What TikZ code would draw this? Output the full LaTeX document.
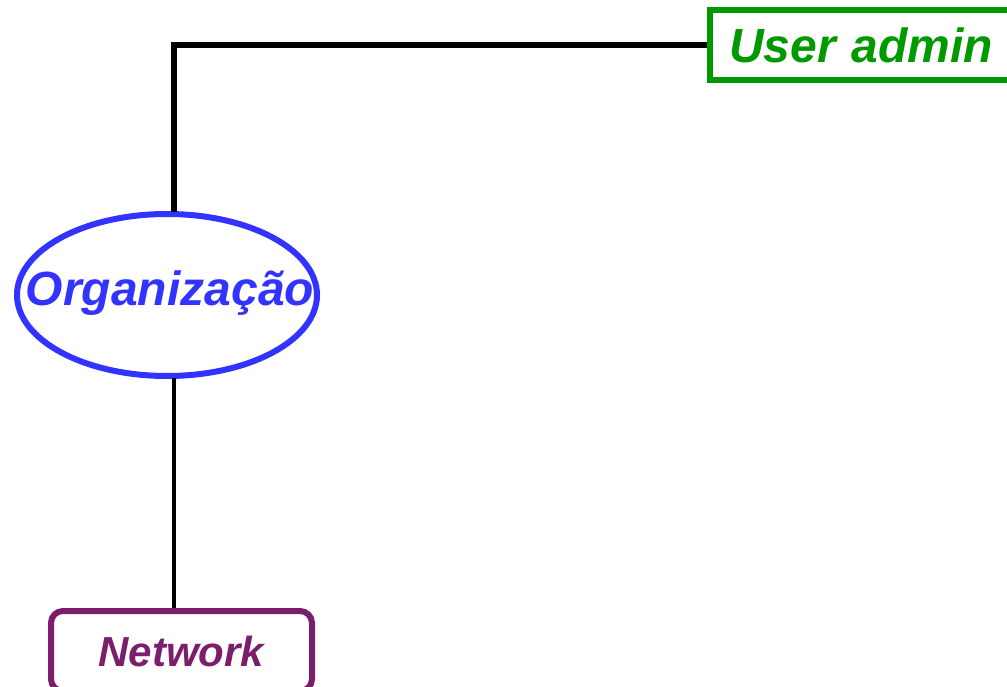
\documentclass[tikz,border=0pt]{standalone}
\usepackage{fontspec}
\setmainfont{Liberation Sans}
\usetikzlibrary{shapes.geometric}
\definecolor{orgblue}{RGB}{51,51,255}
\definecolor{admingreen}{RGB}{0,153,0}
\definecolor{netpurple}{RGB}{123,31,108}
\tikzset{
  labelfont/.style={font=\fontsize{#1}{#1}\selectfont\bfseries\itshape},
  orgshape/.style={ellipse, draw=orgblue, line width=6pt,
    minimum width=300pt, minimum height=162pt, inner sep=0pt},
  orgtext/.style={text=orgblue, inner sep=0pt, labelfont=48},
  adminbox/.style={rectangle, draw=admingreen, line width=6pt, text=admingreen,
    minimum height=70pt, text width=320pt, align=left, inner xsep=19pt,
    inner ysep=0pt, labelfont=48},
  netbox/.style={rectangle, rounded corners=12pt, draw=netpurple, line width=6pt,
    text=netpurple, minimum width=261pt, minimum height=80pt, inner ysep=0pt,
    labelfont=42},
  thickconn/.style={draw=black, line width=6pt},
  thinconn/.style={draw=black, line width=4.5pt},
}
\begin{document}
\begin{tikzpicture}[x=1pt,y=-1pt]
  \useasboundingbox (0,0) rectangle (1007,687);
  \clip (0,0) rectangle (1007,687);
  % nodes
  \node[orgshape] (org) at (167,295) {};
  \node[orgtext] (orglabel) at (170,293) {Organização};
  \node[adminbox, anchor=west] (admin) at (707,45) {User admin};
  \node[netbox] (net) at (181.5,651) {Network};
  % connectors
  \coordinate (orgtop) at ([xshift=7pt,yshift=-1pt]org.north);
  \coordinate (orgbot) at ([xshift=7pt,yshift=1pt]org.south);
  \draw[thickconn] (orgtop) |- (admin.west);
  \draw[thinconn] (orgbot) -- (orgbot |- net.north);
\end{tikzpicture}
\end{document}
